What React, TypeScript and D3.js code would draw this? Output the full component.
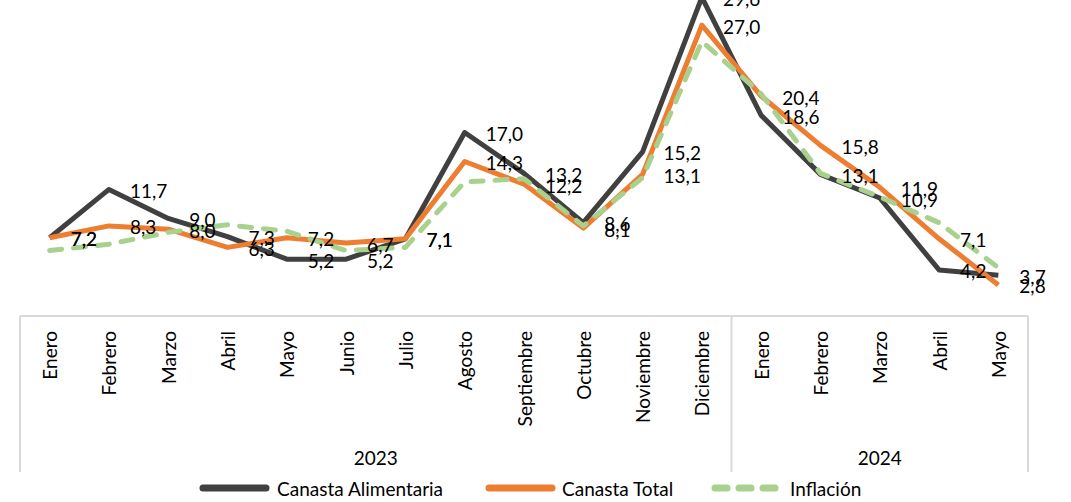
import React from "react";
import * as d3 from "d3";

const months = [
  "Enero", "Febrero", "Marzo", "Abril", "Mayo", "Junio", "Julio", "Agosto",
  "Septiembre", "Octubre", "Noviembre", "Diciembre",
  "Enero", "Febrero", "Marzo", "Abril", "Mayo",
];
const yearLabels = ["2023", "2024"];
const yearSpans = [12, 5];

const canastaAlimentaria = [7.2, 11.7, 9.0, 7.3, 5.2, 5.2, 7.1, 17.0, 13.2, 8.6, 15.2, 29.6, 18.6, 13.1, 10.9, 4.2, 3.7];
const canastaTotal = [7.2, 8.3, 8.0, 6.3, 7.2, 6.7, 7.1, 14.3, 12.2, 8.1, 13.1, 27.0, 20.4, 15.8, 11.9, 7.1, 2.8];
const inflacion = [6.0, 6.6, 7.7, 8.4, 7.8, 6.0, 6.3, 12.4, 12.7, 8.3, 12.8, 25.5, 20.6, 13.2, 11.0, 8.6, 4.4];

const seriesNames = ["Canasta Alimentaria", "Canasta Total", "Inflación"];

const W = 1071;
const H = 502;
const FONT = "Lato, 'Open Sans', sans-serif";

export default function App() {
  const left = 20;
  const right = 1028;
  const axisY = 315;

  // band scale for the category boxes, points sit in the band middle
  const xBand = d3.scaleBand<number>()
    .domain(months.map((m, i) => i))
    .range([left, right]);
  const xPos = (i: number) => (xBand(i) as number) + xBand.bandwidth() / 2;

  const yScale = d3.scaleLinear().domain([0, 30]).range([axisY, -7]);

  const line = d3.line<number>()
    .x((d, i) => xPos(i))
    .y(d => yScale(d));

  const fmt = (v: number) => d3.format(".1f")(v).replace(".", ",");

  const series = [
    { name: seriesNames[0], values: canastaAlimentaria, color: "#404040", dash: undefined, labels: true },
    { name: seriesNames[1], values: canastaTotal, color: "#ED7D31", dash: undefined, labels: true },
    { name: seriesNames[2], values: inflacion, color: "#A9D18E", dash: "12 12", labels: false },
  ];

  // year group boundaries
  let acc = 0;
  const groups = yearSpans.map((n, k) => {
    const start = acc;
    acc += n;
    const x0 = xBand(start) as number;
    const x1 = (xBand(acc - 1) as number) + xBand.bandwidth();
    return { label: yearLabels[k], x0, x1 };
  });

  const legendItems = [
    { lineX: 200, textX: 277 },
    { lineX: 486, textX: 562 },
    { lineX: 712, textX: 790 },
  ];
  const legendY = 488;

  return (
    <svg width={W} height={H} style={{ position: "absolute", left: 0, top: 0, background: "#fff" }}>
      {/* axis box */}
      <g stroke="#d9d9d9" strokeWidth={2} fill="none">
        <line x1={left} x2={right} y1={axisY + 1} y2={axisY + 1} />
        {[left, ...groups.map(g => g.x1)].map((x, i) => (
          <line key={i} x1={x} x2={x} y1={axisY + 1} y2={472} />
        ))}
      </g>

      {/* month labels */}
      <g fontFamily={FONT} fontSize={19} fill="#000">
        {months.map((m, i) => (
          <text
            key={i}
            transform={`translate(${xPos(i)},${331}) rotate(-90)`}
            textAnchor="end"
            dominantBaseline="central"
          >
            {m}
          </text>
        ))}
      </g>

      {/* year labels */}
      <g fontFamily={FONT} fontSize={19} fill="#000">
        {groups.map(g => (
          <text key={g.label} x={(g.x0 + g.x1) / 2} y={457} textAnchor="middle" dominantBaseline="central">
            {g.label}
          </text>
        ))}
      </g>

      {/* lines */}
      {series.map(s => (
        <path
          key={s.name}
          d={line(s.values) as string}
          fill="none"
          stroke={s.color}
          strokeWidth={5}
          strokeDasharray={s.dash}
          strokeLinecap={s.dash ? "round" : "butt"}
          strokeLinejoin="round"
        />
      ))}

      {/* data labels */}
      <g fontFamily={FONT} fontSize={19} fill="#000">
        {series.filter(s => s.labels).map(s =>
          s.values.map((v, i) => (
            <text key={s.name + i} x={xPos(i) + 21} y={yScale(v) + 1} dominantBaseline="central">
              {fmt(v)}
            </text>
          ))
        )}
      </g>

      {/* legend */}
      <g fontFamily={FONT} fontSize={19} fill="#000">
        {series.map((s, k) => (
          <g key={s.name}>
            <line
              x1={legendItems[k].lineX + 3}
              x2={legendItems[k].lineX + 66}
              y1={legendY}
              y2={legendY}
              stroke={s.color}
              strokeWidth={7}
              strokeLinecap="round"
              strokeDasharray={s.dash ? "12 12" : undefined}
            />
            <text x={legendItems[k].textX} y={legendY} dominantBaseline="central">
              {s.name}
            </text>
          </g>
        ))}
      </g>
    </svg>
  );
}
